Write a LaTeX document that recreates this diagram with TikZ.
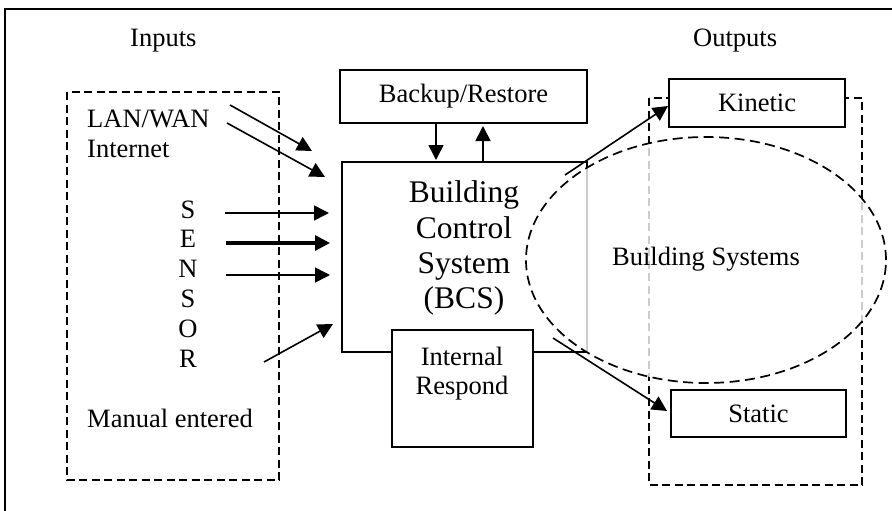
\documentclass[tikz,border=0pt]{standalone}
\usepackage{fontspec}
\setmainfont{Liberation Serif}
\usetikzlibrary{arrows.meta}
\begin{document}
\begin{tikzpicture}[x=1pt,y=-1pt,
  txt/.style={inner sep=0pt,font=\fontsize{26.5}{30}\selectfont},
  bcstxt/.style={inner sep=0pt,font=\fontsize{31.5}{35}\selectfont},
  box/.style={draw,line width=2pt},
  dbox/.style={draw,line width=1.7pt,dash pattern=on 8pt off 4.5pt},
  arr/.style={line width=1.6pt,-{Triangle[length=15pt,width=15pt]}},
  thickarr/.style={line width=3.2pt,-{Triangle[length=15pt,width=15pt]}}]
\useasboundingbox (0,0) rectangle (892,511);
% outer frame
\draw[line width=2.2pt] (5,511) -- (5,9) -- (892,9);
% labels
\node[txt,anchor=base west] (inputs) at (130,47) {Inputs};
\node[txt,anchor=base west] (outputs) at (693,47) {Outputs};
% input dashed box
\draw[dbox] (67,92) rectangle (279,480);
\node[txt,anchor=base west] (lan) at (87,127) {LAN/WAN};
\node[txt,anchor=base west] (inet) at (87,157) {Internet};
\node[txt,anchor=base] (s1) at (188,218) {S};
\node[txt,anchor=base] (s2) at (188,247) {E};
\node[txt,anchor=base] (s3) at (188,277) {N};
\node[txt,anchor=base] (s4) at (188,307) {S};
\node[txt,anchor=base] (s5) at (188,337) {O};
\node[txt,anchor=base] (s6) at (188,367) {R};
\node[txt,anchor=base west] (man) at (87,427) {Manual entered};
% BCS
\draw[box] (342,162) rectangle (587,352);
\node[bcstxt,anchor=base] (b1) at (464,202) {Building};
\node[bcstxt,anchor=base] (b2) at (464,238) {Control};
\node[bcstxt,anchor=base] (b3) at (464,273) {System};
\node[bcstxt,anchor=base] (b4) at (464,308) {(BCS)};
% output dashed box
\draw[dbox] (649,98) rectangle (862,485);
% ellipse
\draw[line width=1.7pt,dash pattern=on 10pt off 5.5pt,fill=white,fill opacity=0.8] (706,260) ellipse [x radius=180pt, y radius=123pt];
\node[txt,anchor=base] (bsys) at (706,265) {Building Systems};
% internal respond
\draw[box,fill=white] (392,330) rectangle (533,447);
\node[txt,anchor=base] (ir1) at (462,365) {Internal};
\node[txt,anchor=base] (ir2) at (462,394) {Respond};
% backup
\node[box,fill=white,minimum width=247pt,minimum height=53pt,inner sep=0pt,font=\fontsize{26.5}{30}\selectfont] (bk) at (463.5,96.5) {Backup/Restore};
% kinetic, static
\node[box,fill=white,minimum width=176pt,minimum height=48pt,inner sep=0pt,font=\fontsize{26.5}{30}\selectfont] (kin) at (757,103) {Kinetic};
\node[box,fill=white,minimum width=175pt,minimum height=47pt,inner sep=0pt,font=\fontsize{26.5}{30}\selectfont] (sta) at (758.5,413.5) {Static};
% arrow coordinates
\coordinate (a1s) at (230,105); \coordinate (a1e) at (312,151);
\coordinate (a2s) at (227,123); \coordinate (a2e) at (325,177);
\coordinate (a3s) at (225,213); \coordinate (a3e) at (329,213);
\coordinate (a4s) at (226,243); \coordinate (a4e) at (330,243);
\coordinate (a5s) at (226,275); \coordinate (a5e) at (330,275);
\coordinate (a6s) at (264,362); \coordinate (a6e) at (333,324);
\coordinate (d1s) at (436,123); \coordinate (d1e) at (436,160);
\coordinate (u1s) at (483,162); \coordinate (u1e) at (483,126);
\coordinate (k1s) at (565,175); \coordinate (k1e) at (668,106);
\coordinate (t1s) at (553,338); \coordinate (t1e) at (667,411);
\draw[arr] (a1s) -- (a1e);
\draw[arr] (a2s) -- (a2e);
\draw[arr] (a3s) -- (a3e);
\draw[thickarr] (a4s) -- (a4e);
\draw[arr] (a5s) -- (a5e);
\draw[arr] (a6s) -- (a6e);
\draw[arr] (d1s) -- (d1e);
\draw[arr] (u1s) -- (u1e);
\draw[arr] (k1s) -- (k1e);
\draw[arr] (t1s) -- (t1e);
\end{tikzpicture}
\end{document}
